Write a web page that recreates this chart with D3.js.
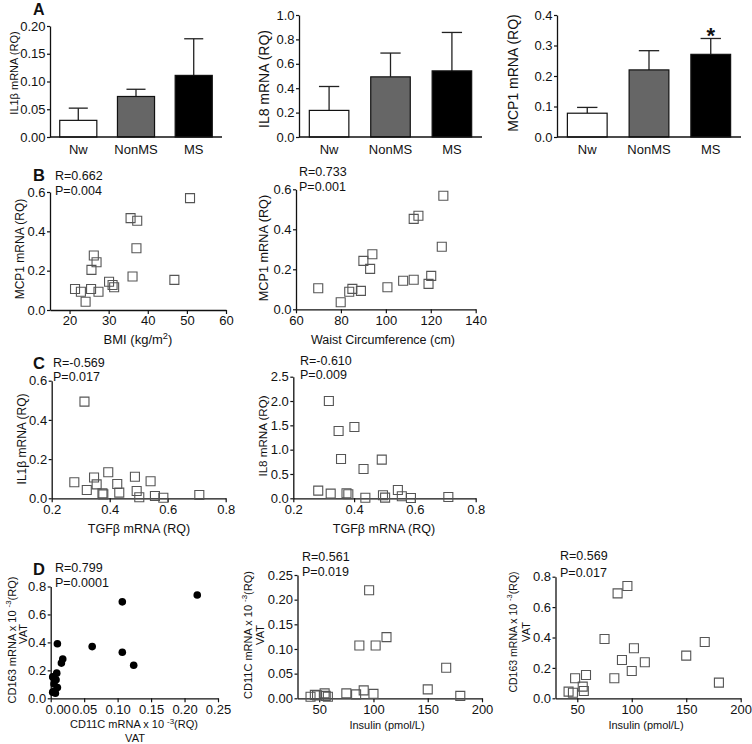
<!DOCTYPE html>
<html><head><meta charset="utf-8">
<script src="https://cdn.jsdelivr.net/npm/d3@7"></script>
<style>
body{margin:0;background:#fff}
svg text{font-family:"Liberation Sans",Arial,Helvetica,sans-serif;fill:#111}
</style></head><body>
<svg id="c" width="752" height="744"></svg>
<script>
// ---------- DATA ----------
const groups = ["Nw", "NonMS", "MS"];
const il1bMean = [0.030, 0.073, 0.111];
const il1bUpper = [0.052, 0.086, 0.177];
const il8Mean = [0.218, 0.493, 0.542];
const il8Upper = [0.414, 0.688, 0.857];
const mcp1Mean = [0.078, 0.220, 0.271];
const mcp1Upper = [0.097, 0.283, 0.323];

const bmi = [50.8, 35.6, 37.3, 37.1, 26.2, 26.9, 25.6, 36.1, 46.8, 30.1, 31.0, 31.4, 21.4, 25.5, 22.9, 27.4, 24.1];
const mcp1VsBmi = [0.569, 0.467, 0.454, 0.314, 0.277, 0.243, 0.204, 0.170, 0.153, 0.144, 0.127, 0.116, 0.107, 0.107, 0.093, 0.093, 0.042];
const waist = [125.6, 114.5, 112.4, 124.9, 94.0, 90.0, 93.0, 120.2, 112.4, 107.7, 119.0, 100.7, 69.9, 85.1, 88.9, 83.7, 79.9];
const mcp1VsWaist = [0.568, 0.468, 0.452, 0.313, 0.275, 0.242, 0.202, 0.167, 0.148, 0.143, 0.127, 0.110, 0.105, 0.102, 0.092, 0.088, 0.035];

const tgfVsIl1b = [0.313, 0.278, 0.346, 0.395, 0.487, 0.541, 0.321, 0.355, 0.426, 0.375, 0.378, 0.433, 0.493, 0.502, 0.556, 0.585, 0.709];
const il1b = [0.493, 0.082, 0.106, 0.133, 0.110, 0.087, 0.042, 0.071, 0.073, 0.025, 0.020, 0.029, 0.037, 0.005, 0.012, 0.003, 0.017];
const tgfVsIl8 = [0.317, 0.349, 0.401, 0.357, 0.491, 0.431, 0.282, 0.323, 0.375, 0.381, 0.437, 0.495, 0.502, 0.544, 0.557, 0.587, 0.710];
const il8 = [2.00, 1.384, 1.466, 0.808, 0.795, 0.603, 0.158, 0.096, 0.103, 0.082, 0.010, 0.062, 0.014, 0.171, 0.041, 0.007, 0.027];

const insulin = [42, 46, 48, 55, 56, 58, 75, 84, 87, 91, 96, 100, 102, 112, 150, 167, 180];
const cd11c = [0.003, 0.007, 0.006, 0.010, 0.005, 0.003, 0.010, 0.008, 0.107, 0.016, 0.219, 0.009, 0.107, 0.124, 0.018, 0.062, 0.005];
const cd163 = [0.044, 0.037, 0.132, 0.077, 0.048, 0.153, 0.390, 0.132, 0.690, 0.252, 0.739, 0.180, 0.329, 0.237, 0.281, 0.370, 0.103];

// ---------- DRAWING ----------
const svg = d3.select("#c");
const AX = "#111";

function styleAxis(g, fs) {
  g.selectAll("path.domain").attr("stroke", AX).attr("stroke-width", 1.3);
  g.selectAll(".tick line").attr("stroke", AX).attr("stroke-width", 1.2);
  g.selectAll(".tick text").attr("font-size", fs).attr("fill", "#111")
    .attr("font-family", '"Liberation Sans",Arial,sans-serif');
}

function yTitle(cx, cy, fs, parts) {
  const t = svg.append("text")
    .attr("transform", `translate(${cx},${cy}) rotate(-90)`)
    .attr("text-anchor", "middle").attr("dy", "0.35em").attr("font-size", fs);
  addParts(t, parts, fs);
}
function xTitle(cx, y, fs, parts) {
  const t = svg.append("text").attr("x", cx).attr("y", y)
    .attr("text-anchor", "middle").attr("font-size", fs);
  addParts(t, parts, fs);
}
function addParts(t, parts, fs) {
  let shifted = false;
  parts.forEach(p => {
    if (typeof p === "string") {
      const s = t.append("tspan").text(p);
      if (shifted) { s.attr("dy", fs * 0.4); shifted = false; }
    } else {
      t.append("tspan").text(p.sup).attr("dy", -fs * 0.4).attr("font-size", fs * 0.72);
      shifted = true;
    }
  });
}
function label(x, y, txt, fs, bold) {
  svg.append("text").attr("x", x).attr("y", y).attr("font-size", fs)
    .attr("font-weight", bold ? "bold" : "normal").text(txt);
}

function barPanel(o) {
  const x = d3.scaleBand().domain(groups).range([o.x0, o.x1]).paddingInner(0.34).paddingOuter(0.16);
  const y = d3.scaleLinear().domain([0, o.yMax]).range([o.yB, o.yT]);
  const fills = ["#ffffff", "#666666", "#000000"];
  const g = svg.append("g");
  const data = groups.map((k, i) => ({ k, m: o.mean[i], u: o.upper[i], f: fills[i] }));
  data.forEach(d => {
    const cx = x(d.k) + x.bandwidth() / 2;
    g.append("line").attr("x1", cx).attr("x2", cx).attr("y1", y(d.m)).attr("y2", y(d.u))
      .attr("stroke", "#222").attr("stroke-width", 1.3);
    g.append("line").attr("x1", cx - x.bandwidth() / 4).attr("x2", cx + x.bandwidth() / 4)
      .attr("y1", y(d.u)).attr("y2", y(d.u)).attr("stroke", "#222").attr("stroke-width", 1.3);
  });
  g.selectAll("rect.bar").data(data).join("rect")
    .attr("x", d => x(d.k) + 0.5).attr("width", x.bandwidth() - 1)
    .attr("y", d => y(d.m)).attr("height", d => y(0) - y(d.m))
    .attr("fill", d => d.f).attr("stroke", "#111").attr("stroke-width", 1.2);
  const ya = svg.append("g").attr("transform", `translate(${o.x0},0)`)
    .call(d3.axisLeft(y).tickValues(o.yTicks).tickFormat(d3.format(o.yFmt)).tickSize(3).tickPadding(1.5).tickSizeOuter(0));
  styleAxis(ya, 13);
  const xa = svg.append("g").attr("transform", `translate(0,${o.yB})`)
    .call(d3.axisBottom(x).tickSize(0).tickPadding(8).tickSizeOuter(0));
  styleAxis(xa, 13);
  xa.select("path.domain").attr("d", `M${o.x0},0H${o.x1}`);
  return { x, y };
}

function scatterPanel(o) {
  const x = d3.scaleLinear().domain(o.xDom).range([o.x0, o.x1]);
  const y = d3.scaleLinear().domain(o.yDom).range([o.yB, o.yT]);
  const xa = svg.append("g").attr("transform", `translate(0,${o.yB})`)
    .call(d3.axisBottom(x).tickValues(o.xTicks).tickFormat(d3.format(o.xFmt)).tickSize(4).tickPadding(2).tickSizeOuter(0));
  styleAxis(xa, 13);
  if (o.firstXShift) xa.select(".tick text").attr("dx", o.firstXShift);
  const ya = svg.append("g").attr("transform", `translate(${o.x0},0)`)
    .call(d3.axisLeft(y).tickValues(o.yTicks).tickFormat(d3.format(o.yFmt)).tickSize(3).tickPadding(1.5).tickSizeOuter(0));
  styleAxis(ya, 13);
  const pts = o.xs.map((v, i) => [v, o.ys[i]]);
  if (o.circle) {
    svg.append("g").selectAll("circle").data(pts).join("circle")
      .attr("cx", d => x(d[0])).attr("cy", d => y(d[1])).attr("r", 3.8).attr("fill", "#000");
  } else {
    const sym = d3.symbol(d3.symbolSquare, 81);
    svg.append("g").selectAll("path").data(pts).join("path")
      .attr("transform", d => `translate(${x(d[0])},${y(d[1])})`)
      .attr("d", sym).attr("fill", "none").attr("stroke", "#555").attr("stroke-width", 1.1);
  }
}

// ---- Panel A ----
label(33, 14.5, "A", 16, true);
barPanel({ x0: 50, x1: 222, yB: 137, yT: 26, yMax: 0.2, yTicks: [0, 0.05, 0.1, 0.15, 0.2], yFmt: ".2f", mean: il1bMean, upper: il1bUpper });
yTitle(14, 73, 11, ["IL1\u03b2 mRNA (RQ)"]);
barPanel({ x0: 299, x1: 482, yB: 137, yT: 15, yMax: 1.0, yTicks: [0, 0.2, 0.4, 0.6, 0.8, 1.0], yFmt: ".1f", mean: il8Mean, upper: il8Upper });
yTitle(264, 79, 14, ["IL8 mRNA (RQ)"]);
const a3 = barPanel({ x0: 557, x1: 741, yB: 137, yT: 15, yMax: 0.4, yTicks: [0, 0.1, 0.2, 0.3, 0.4], yFmt: ".1f", mean: mcp1Mean, upper: mcp1Upper });
yTitle(513, 73, 14, ["MCP1 mRNA (RQ)"]);
svg.append("text").attr("x", a3.x("MS") + a3.x.bandwidth() / 2).attr("y", 43)
  .attr("text-anchor", "middle").attr("font-size", 22).attr("font-weight", "bold").text("*");

// ---- Panel B ----
label(33, 181, "B", 16.5, true);
scatterPanel({ x0: 50, x1: 226, yB: 310, yT: 192, xDom: [15, 60], yDom: [0, 0.6], xTicks: [20, 30, 40, 50, 60], yTicks: [0, 0.2, 0.4, 0.6], xFmt: "d", yFmt: ".1f", xs: bmi, ys: mcp1VsBmi });
yTitle(20, 249, 12, ["MCP1 mRNA (RQ)"]);
xTitle(138, 344, 13, ["BMI (kg/m", { sup: "2" }, ")"]);
label(55, 180, "R=0.662", 12.5); label(55, 195, "P=0.004", 12.5);

scatterPanel({ x0: 296, x1: 475.7, yB: 309.3, yT: 189.3, xDom: [60, 140], yDom: [0, 0.6], xTicks: [60, 80, 100, 120, 140], yTicks: [0, 0.2, 0.4, 0.6], xFmt: "d", yFmt: ".1f", xs: waist, ys: mcp1VsWaist });
yTitle(264, 248, 12.7, ["MCP1 mRNA (RQ)"]);
xTitle(383, 344, 12.5, ["Waist Circumference (cm)"]);
label(299, 176, "R=0.733", 12.5); label(299, 191, "P=0.001", 12.5);

// ---- Panel C ----
label(33, 368.5, "C", 16.5, true);
scatterPanel({ x0: 51.7, x1: 225.7, yB: 498.3, yT: 380.7, xDom: [0.2, 0.8], yDom: [0, 0.6], xTicks: [0.2, 0.4, 0.6, 0.8], yTicks: [0, 0.2, 0.4, 0.6], xFmt: ".1f", yFmt: ".1f", xs: tgfVsIl1b, ys: il1b });
yTitle(22, 439, 12, ["IL1\u03b2 mRNA (RQ)"]);
xTitle(139, 533, 12.5, ["TGF\u03b2 mRNA (RQ)"]);
label(53, 367, "R=-0.569", 12.5); label(53, 381, "P=0.017", 12.5);

scatterPanel({ x0: 293.3, x1: 475.7, yB: 498.3, yT: 376.7, xDom: [0.2, 0.8], yDom: [0, 2.5], xTicks: [0.2, 0.4, 0.6, 0.8], yTicks: [0, 0.5, 1.0, 1.5, 2.0, 2.5], xFmt: ".1f", yFmt: ".1f", xs: tgfVsIl8, ys: il8 });
yTitle(263, 436, 11.6, ["IL8 mRNA (RQ)"]);
xTitle(384, 533, 12.5, ["TGF\u03b2 mRNA (RQ)"]);
label(300, 365, "R=-0.610", 12.5); label(300, 379, "P=0.009", 12.5);

// ---- Panel D ----
label(33, 574.5, "D", 16.5, true);
scatterPanel({ x0: 50.7, x1: 218, yB: 698.3, yT: 586.5, xDom: [0, 0.25], yDom: [0, 0.8], xTicks: [0, 0.05, 0.1, 0.15, 0.2, 0.25], yTicks: [0, 0.2, 0.4, 0.6, 0.8], xFmt: ".2f", yFmt: ".1f", xs: cd11c, ys: cd163, circle: true, firstXShift: 7 });
yTitle(12, 640, 11, ["CD163 mRNA x 10 ", { sup: "-3" }, "(RQ)"]);
yTitle(23, 634, 11, ["VAT"]);
xTitle(134, 728, 11, ["CD11C mRNA x 10 ", { sup: "-3" }, "(RQ)"]);
xTitle(135, 741.5, 11, ["VAT"]);
label(55, 572, "R=0.799", 12.5); label(55, 587, "P=0.0001", 12.5);

scatterPanel({ x0: 297.5, x1: 482, yB: 698.3, yT: 575, xDom: [30, 200], yDom: [0, 0.25], xTicks: [50, 100, 150, 200], yTicks: [0, 0.05, 0.1, 0.15, 0.2, 0.25], xFmt: "d", yFmt: ".2f", xs: insulin, ys: cd11c });
yTitle(248, 635, 11, ["CD11C mRNA x 10 ", { sup: "-3" }, "(RQ)"]);
yTitle(260, 635, 11, ["VAT"]);
xTitle(387, 729, 11, ["Insulin (pmol/L)"]);
label(302, 561, "R=0.561", 12.5); label(302, 576, "P=0.019", 12.5);

scatterPanel({ x0: 555.5, x1: 740.7, yB: 698.3, yT: 576.7, xDom: [30, 200], yDom: [0, 0.8], xTicks: [50, 100, 150, 200], yTicks: [0, 0.2, 0.4, 0.6, 0.8], xFmt: "d", yFmt: ".1f", xs: insulin, ys: cd163 });
yTitle(513, 632, 10.5, ["CD163 mRNA x 10 ", { sup: "-3" }, "(RQ)"]);
yTitle(526, 632, 11, ["VAT"]);
xTitle(646, 729, 11, ["Insulin (pmol/L)"]);
label(560, 560, "R=0.569", 12.5); label(560, 577, "P=0.017", 12.5);
</script>
</body></html>
